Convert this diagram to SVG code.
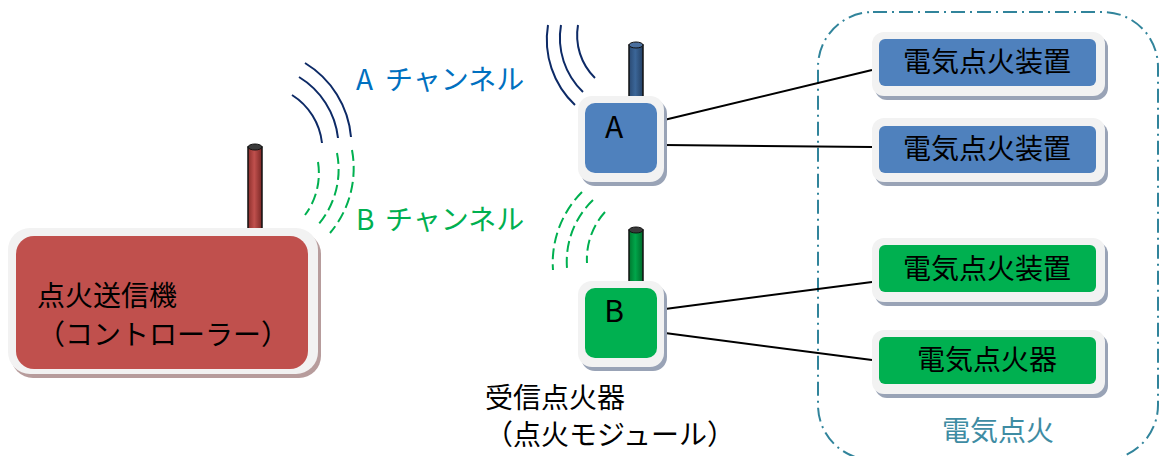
<svg xmlns="http://www.w3.org/2000/svg" width="1160" height="456" viewBox="0 0 1160 456">
<defs>
<linearGradient id="gRed" x1="0" x2="1" y1="0" y2="0"><stop offset="0" stop-color="#8c2f2c"/><stop offset="0.45" stop-color="#c0504d"/><stop offset="1" stop-color="#7a2826"/></linearGradient>
<linearGradient id="gBlue" x1="0" x2="1" y1="0" y2="0"><stop offset="0" stop-color="#2a4a73"/><stop offset="0.45" stop-color="#3b6698"/><stop offset="1" stop-color="#244064"/></linearGradient>
<linearGradient id="gGreen" x1="0" x2="1" y1="0" y2="0"><stop offset="0" stop-color="#00782f"/><stop offset="0.45" stop-color="#00a64a"/><stop offset="1" stop-color="#006a2a"/></linearGradient>
<style>
.jp{font-family:"Noto Sans CJK JP","Noto Sans",sans-serif;font-size:28px;fill:#000;}
.lt{font-family:"Noto Sans CJK JP","Noto Sans",sans-serif;font-size:30px;fill:#000;}
.frame{fill:#f2f2f2;}
.sh{fill:#99a3b6;}
.shr{fill:#b79c9c;}
.ant{stroke:#111;stroke-width:1.5;}
.cap{fill:#3a3a3a;stroke:#111;stroke-width:1;}
.wa{fill:none;stroke:#0d2a66;stroke-width:2;}
.wb{fill:none;stroke:#00b050;stroke-width:2;stroke-dasharray:11 5;}
.conn{stroke:#000;stroke-width:2;fill:none;}
</style>
</defs>

<g id="zone">
<rect x="818" y="12" width="340" height="448" rx="55" fill="none" stroke="#31849b" stroke-width="2" stroke-dasharray="14 5 2 5"/>
<text class="jp" x="998" y="441" text-anchor="middle" style="fill:#3e8ca3">電気点火</text>
</g>

<g id="waves">
<path class="wa" d="M292,95 A65,65 0 0 1 322,143"/>
<path class="wa" d="M299,77 A82,82 0 0 1 338,138"/>
<path class="wa" d="M305,63 A96,96 0 0 1 351,137"/>
<path class="wb" d="M318,162 A70,70 0 0 1 305,215"/>
<path class="wb" d="M337,153 A85,85 0 0 1 318,225"/>
<path class="wb" d="M352,150 A100,100 0 0 1 330,233"/>
<path class="wa" d="M578,25 A60,60 0 0 0 595,78"/>
<path class="wa" d="M561,25 A75,75 0 0 0 583,92"/>
<path class="wa" d="M548,25 A90,90 0 0 0 575,105"/>
<path class="wb" d="M582,192 A100,100 0 0 0 553,270"/>
<path class="wb" d="M593,200 A85,85 0 0 0 567,268"/>
<path class="wb" d="M605,212 A70,70 0 0 0 587,263"/>
<text style="font-family:'Noto Sans CJK JP','Noto Sans',sans-serif;font-size:28px;fill:#0070c0" y="90"><tspan x="356">A</tspan><tspan x="385">チャンネル</tspan></text>
<text style="font-family:'Noto Sans CJK JP','Noto Sans',sans-serif;font-size:28px;fill:#00b050" y="230"><tspan x="356">B</tspan><tspan x="385">チャンネル</tspan></text>
</g>

<g id="connectors">
<line class="conn" x1="664" y1="120" x2="872" y2="70"/>
<line class="conn" x1="664" y1="145" x2="872" y2="147"/>
<line class="conn" x1="665" y1="309" x2="872" y2="282"/>
<line class="conn" x1="665" y1="333" x2="872" y2="360"/>
</g>

<g id="controller">
<rect class="ant" x="248" y="147" width="14" height="84" fill="url(#gRed)"/>
<ellipse class="cap" cx="255" cy="147" rx="7" ry="3"/>
<rect class="shr" x="11" y="232" width="310" height="146" rx="22"/>
<rect class="frame" x="8" y="228" width="310" height="146" rx="22"/>
<rect x="16" y="236" width="292" height="133" rx="18" fill="#c0504d"/>
<text class="jp" x="37" y="306">点火送信機</text>
<text class="jp" x="37" y="345">（コントローラー）</text>
</g>

<g id="receiverA">
<rect class="ant" x="629" y="45" width="14" height="53" fill="url(#gBlue)"/>
<ellipse class="cap" cx="636" cy="45" rx="7" ry="3" style="fill:#4a6f9e"/>
<rect class="sh" x="581" y="100" width="86" height="86" rx="14"/>
<rect class="frame" x="578" y="96" width="86" height="86" rx="14"/>
<rect x="585" y="103" width="72" height="70" rx="10" fill="#4f81bd"/>
<text class="lt" x="614" y="138" text-anchor="middle">A</text>
</g>

<g id="receiverB">
<rect class="ant" x="629" y="230" width="14" height="52" fill="url(#gGreen)"/>
<ellipse class="cap" cx="636" cy="230" rx="7" ry="3"/>
<rect class="sh" x="581" y="285" width="86" height="86" rx="14"/>
<rect class="frame" x="578" y="281" width="86" height="86" rx="14"/>
<rect x="585" y="288" width="72" height="70" rx="10" fill="#00b050"/>
<text class="lt" x="614" y="322" text-anchor="middle">B</text>
<text class="jp" x="485" y="408">受信点火器</text>
<text class="jp" x="485" y="445">（点火モジュール）</text>
</g>

<g id="deviceA1">
<rect class="sh" x="875" y="36" width="233" height="64" rx="12"/>
<rect class="frame" x="872" y="32" width="233" height="64" rx="12"/>
<rect x="879" y="39" width="217" height="47" rx="6" fill="#4f81bd"/>
<text class="jp" x="987" y="72" text-anchor="middle">電気点火装置</text>
</g>

<g id="deviceA2">
<rect class="sh" x="875" y="122" width="233" height="64" rx="12"/>
<rect class="frame" x="872" y="118" width="233" height="64" rx="12"/>
<rect x="879" y="126" width="217" height="47" rx="6" fill="#4f81bd"/>
<text class="jp" x="987" y="159" text-anchor="middle">電気点火装置</text>
</g>

<g id="deviceB1">
<rect class="sh" x="875" y="242" width="233" height="64" rx="12"/>
<rect class="frame" x="872" y="238" width="233" height="64" rx="12"/>
<rect x="879" y="245" width="217" height="47" rx="6" fill="#00b050"/>
<text class="jp" x="987" y="279" text-anchor="middle">電気点火装置</text>
</g>

<g id="deviceB2">
<rect class="sh" x="875" y="334" width="233" height="64" rx="12"/>
<rect class="frame" x="872" y="330" width="233" height="64" rx="12"/>
<rect x="879" y="337" width="217" height="47" rx="6" fill="#00b050"/>
<text class="jp" x="987" y="370" text-anchor="middle">電気点火器</text>
</g>
</svg>
